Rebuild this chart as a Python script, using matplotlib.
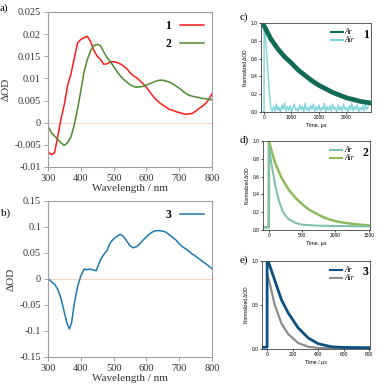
import numpy as np
import matplotlib
matplotlib.use('Agg')
import matplotlib.pyplot as plt
from matplotlib.ticker import FuncFormatter
from matplotlib.lines import Line2D

plt.rcParams['font.family'] = ['Liberation Serif', 'DejaVu Serif']
plt.rcParams['axes.unicode_minus'] = False

# ---- data: transient absorption spectra (a, b) ----
wl = list(range(300, 801, 10))
dod_1 = [-0.0065, -0.0072, -0.0068, -0.0030, 0.0010, 0.0042, 0.0085, 0.0110, 0.0145, 0.0180,
         0.0188, 0.0192, 0.0195, 0.0183, 0.0163, 0.0150, 0.0143, 0.0132, 0.0133, 0.0137,
         0.0138, 0.0136, 0.0133, 0.0128, 0.0122, 0.0113, 0.0106, 0.0102, 0.0095, 0.0088,
         0.0080, 0.0070, 0.0060, 0.0052, 0.0045, 0.0040, 0.0035, 0.0030, 0.0028, 0.0025,
         0.0023, 0.0021, 0.0019, 0.0020, 0.0021, 0.0026, 0.0032, 0.0037, 0.0043, 0.0052,
         0.0065]
dod_2 = [-0.0008, -0.0022, -0.0030, -0.0038, -0.0046, -0.0051, -0.0045, -0.0032, -0.0005, 0.0030,
         0.0072, 0.0115, 0.0143, 0.0163, 0.0174, 0.0177, 0.0174, 0.0160, 0.0147, 0.0138,
         0.0127, 0.0116, 0.0106, 0.0098, 0.0092, 0.0086, 0.0082, 0.0080, 0.0081, 0.0082,
         0.0085, 0.0088, 0.0091, 0.0094, 0.0096, 0.0096, 0.0094, 0.0092, 0.0088, 0.0083,
         0.0078, 0.0072, 0.0066, 0.0062, 0.0060, 0.0058, 0.0057, 0.0055, 0.0054, 0.0053,
         0.0052]

wl_3 = [300, 310, 320, 330, 340, 350, 358, 365, 372, 380, 390, 400, 410, 420, 430, 440, 447,
        460, 470, 480, 490, 500, 510, 520, 530, 540, 550, 560, 570, 580, 590, 600, 610, 620,
        630, 640, 650, 660, 670, 680, 690, 700, 710, 720, 730, 740, 750, 760, 768, 770, 780,
        790, 800]
dod_3 = [0.001, -0.005, -0.010, -0.020, -0.038, -0.065, -0.085, -0.096, -0.084, -0.048, -0.015,
         0.006, 0.019, 0.018, 0.019, 0.017, 0.016, 0.037, 0.047, 0.055, 0.070, 0.077, 0.082,
         0.086, 0.082, 0.073, 0.064, 0.060, 0.062, 0.068, 0.075, 0.081, 0.087, 0.091, 0.093,
         0.093, 0.092, 0.090, 0.085, 0.080, 0.075, 0.068, 0.062, 0.058, 0.053, 0.048, 0.044,
         0.039, 0.036, 0.034, 0.030, 0.025, 0.020]

# ---- data: decay traces (c, d, e) ----
t_c_ar = [0, 250, 500, 750, 1000, 1250, 1500, 1750, 2000, 2250, 2500, 2750, 3000, 3250, 3500, 3900]
c_ar = [0.97, 0.82, 0.71, 0.62, 0.55, 0.47, 0.41, 0.35, 0.30, 0.26, 0.22, 0.19, 0.16, 0.14, 0.12, 0.10]
t_c_air = [-105, -95, 0, 5, 50, 100, 150, 200, 250, 300] + list(range(350, 3801, 50))
c_air = [0.08, 0.0, 0.0, 1.0, 0.85, 0.65, 0.42, 0.20, 0.04, 0.01,
         0.06, 0.01, 0.09, 0.02, 0.05, 0.00, 0.08, 0.03, 0.10, 0.01,
         0.06, 0.02, 0.07, 0.00, 0.05, 0.09, 0.02, 0.04, 0.01, 0.08,
         0.03, 0.06, 0.00, 0.10, 0.02, 0.05, 0.01, 0.07, 0.03, 0.09,
         0.00, 0.06, 0.02, 0.08, 0.01, 0.05, 0.03, 0.10, 0.00, 0.06,
         0.02, 0.07, 0.01, 0.09, 0.03, 0.05, 0.00, 0.08, 0.02, 0.06,
         0.01, 0.09, 0.03, 0.05, 0.00, 0.07, 0.02, 0.10, 0.01, 0.06,
         0.03, 0.08, 0.00, 0.05, 0.02, 0.07, 0.01, 0.09, 0.03, 0.06]

t_d_air = [-90, -3, 0, 50, 100, 150, 200, 300, 400, 500, 600, 700, 800, 900, 1000, 1100, 1200, 1300, 1400, 1520]
d_air = [0.03, 0.03, 1.0, 0.86, 0.74, 0.65, 0.57, 0.45, 0.36, 0.29, 0.23, 0.19, 0.15, 0.12, 0.10, 0.085, 0.075, 0.065, 0.058, 0.05]
t_d_ar = [-90, -3, 0, 25, 50, 100, 150, 200, 250, 300, 400, 500, 700, 1000, 1520]
d_ar = [0.03, 0.03, 0.95, 0.80, 0.69, 0.48, 0.33, 0.22, 0.16, 0.12, 0.08, 0.06, 0.05, 0.045, 0.04]

t_e_ar = [-40, 0, 0, 8, 60, 112, 165, 243, 322, 400, 505, 600, 800]
e_ar = [0.02, 0.02, 1.0, 1.0, 0.78, 0.56, 0.41, 0.24, 0.125, 0.06, 0.025, 0.018, 0.015]
t_e_air = [0, 20, 60, 112, 165, 243, 322, 400, 500, 800]
e_air = [0.85, 0.75, 0.50, 0.29, 0.17, 0.068, 0.025, 0.012, 0.008, 0.006]

W, H = 384, 392
fig = plt.figure(figsize=(W / 100, H / 100), dpi=100)


def px_axes(l, t, r, b):
    return fig.add_axes([l / W, 1 - b / H, (r - l) / W, (b - t) / H])


def style_spectrum(ax, ylim, yticks):
    ax.set_xlim(300, 800)
    ax.set_ylim(*ylim)
    ax.set_xticks(range(300, 801, 100))
    ax.set_yticks(yticks)
    ax.yaxis.set_major_formatter(FuncFormatter(lambda v, p: '%g' % round(v, 4)))
    for s in ax.spines.values():
        s.set_color('#a0a0a0')
        s.set_linewidth(0.8)
    ax.tick_params(direction='out', length=3, width=0.7, color='#a0a0a0',
                   labelsize=7.5, pad=2, labelcolor='#333333')
    ax.axhline(0, color='#f6cdbb', lw=0.6, zorder=0)
    ax.set_xlabel('Wavelength / nm', fontsize=8, labelpad=1, color='#333333')
    ax.set_ylabel('ΔOD', fontsize=8, labelpad=3, color='#333333')


def style_decay(ax, xlim, xticks, ylim, yticks, xlabel):
    ax.set_xlim(*xlim)
    ax.set_ylim(*ylim)
    ax.set_xticks(xticks)
    ax.set_yticks(yticks)
    ax.yaxis.set_major_formatter(FuncFormatter(lambda v, p: '%.1f' % v))
    for s in ax.spines.values():
        s.set_color('#444444')
        s.set_linewidth(0.6)
    ax.tick_params(direction='out', length=1.5, width=0.5, labelsize=3.5, pad=1)
    for lab in ax.get_xticklabels() + ax.get_yticklabels():
        lab.set_family('Liberation Sans')
    ax.set_xlabel(xlabel, fontsize=3.8, family='Liberation Sans', labelpad=1.5)
    ax.set_ylabel('Normalized ΔOD', fontsize=3.5, family='Liberation Sans', labelpad=2)


# ---- a) ----
ax_a = px_axes(48, 12, 212, 167)
ax_a.plot(wl, dod_1, color='#ff1a1a', lw=1.1, label='1')
ax_a.plot(wl, dod_2, color='#4e8a2e', lw=1.1, label='2')
style_spectrum(ax_a, (-0.01, 0.025), [-0.01, -0.005, 0, 0.005, 0.01, 0.015, 0.02, 0.025])
ax_a.legend(loc='upper right', frameon=False, markerfirst=False, handlelength=2.1,
            labelspacing=0.55, borderaxespad=0.25, handletextpad=0.7,
            prop={'weight': 'bold', 'size': 8.5})

# ---- b) ----
ax_b = px_axes(48, 201, 212, 357)
ax_b.plot(wl_3, dod_3, color='#1f78b0', lw=1.1, label='3')
style_spectrum(ax_b, (-0.15, 0.15), [-0.15, -0.1, -0.05, 0, 0.05, 0.1, 0.15])
ax_b.legend(loc='upper right', frameon=False, markerfirst=False, handlelength=2.1,
            borderaxespad=0.25, handletextpad=0.7, prop={'weight': 'bold', 'size': 8.5})

# ---- c) ----
ax_c = px_axes(261, 23, 371, 112)
ax_c.plot(t_c_air, c_air, color='#7fd4da', lw=1.0, label='Air')
ax_c.plot(t_c_ar, c_ar, color='#0f6b55', lw=3.4, label='Ar')
style_decay(ax_c, (-110, 3900), [0, 1000, 2000, 3000], (0, 1.0),
            [0, 0.2, 0.4, 0.6, 0.8, 1.0], 'Time, µs')

# ---- d) ----
ax_d = px_axes(263, 141, 370, 230)
ax_d.plot(t_d_air, d_air, color='#8dbb5c', lw=1.8, label='Air')
ax_d.plot(t_d_ar, d_ar, color='#85bfae', lw=1.5, label='Ar')
style_decay(ax_d, (-90, 1520), [0, 500, 1000, 1500], (0, 1.0),
            [0, 0.2, 0.4, 0.6, 0.8, 1.0], 'Time, µs')

# ---- e) ----
ax_e = px_axes(262, 261, 370, 349)
ax_e.plot(t_e_air, e_air, color='#8c8c8c', lw=1.6, label='Air')
ax_e.plot(t_e_ar, e_ar, color='#0d5080', lw=2.0, label='Ar')
style_decay(ax_e, (-40, 805), [0, 200, 400, 600, 800], (0, 1.0),
            [0, 0.5, 1.0], 'Time / µs')

# legends of the decay panels
for ax, c_ar_col, c_air_col, num in [(ax_c, '#0f6b55', '#7fd4da', '1'),
                                      (ax_d, '#85bfae', '#8dbb5c', '2'),
                                      (ax_e, '#0d5080', '#8c8c8c', '3')]:
    handles = [Line2D([], [], color=c_ar_col, lw=1.5), Line2D([], [], color=c_air_col, lw=1.5)]
    ax.legend(handles, ['Ar', 'Air'], loc='upper right', bbox_to_anchor=(0.9, 1.0),
              frameon=False, handlelength=1.5, handletextpad=0.3, labelspacing=0.0,
              borderaxespad=0.3, prop={'style': 'italic', 'size': 5.5})
    ax.text(0.955, 0.87, num, transform=ax.transAxes, ha='center', va='center',
            fontsize=8.5, fontweight='bold')

# panel letters
for lab, x, y in [('a)', 0, 8), ('b)', 1, 213), ('c)', 240, 17), ('d)', 240, 140), ('e)', 240, 260)]:
    fig.text(x / W, 1 - y / H, lab, fontsize=8, va='center', ha='left')

fig.savefig('out.png', dpi=100)
